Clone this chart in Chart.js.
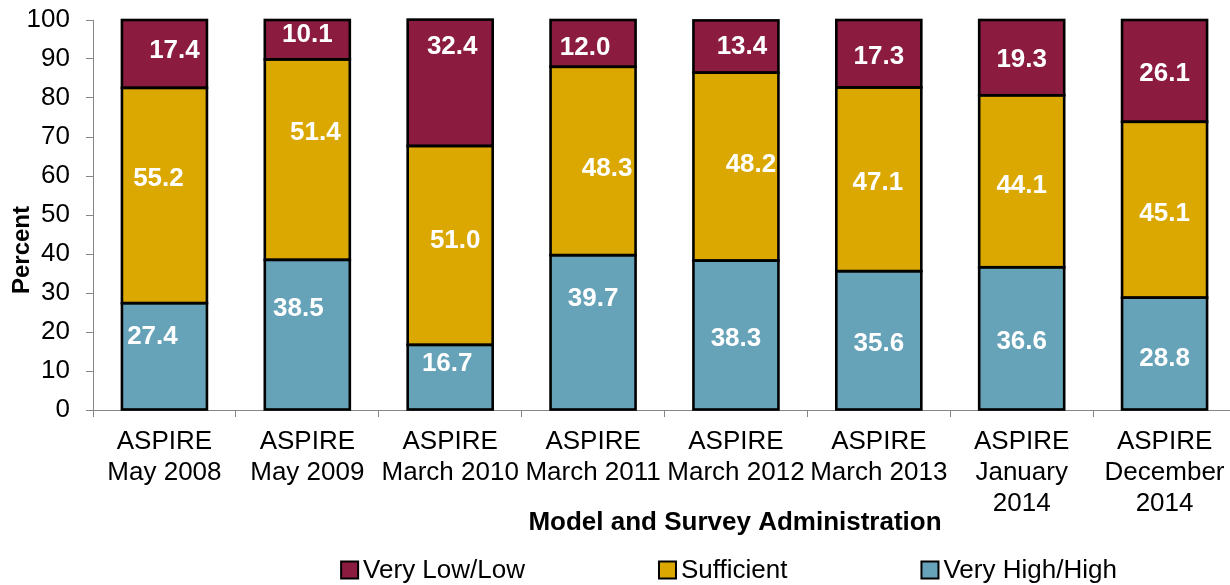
<!DOCTYPE html>
<html>
<head>
<meta charset="utf-8">
<script src="https://cdn.jsdelivr.net/npm/chart.js@4/dist/chart.umd.min.js"></script>
<style>
  html, body { margin: 0; padding: 0; background: #fff; overflow: hidden; width: 1230px; height: 585px; }
  #wrap { width: 1240px; height: 585px; }
</style>
</head>
<body>
<div id="wrap"><canvas id="c" width="1240" height="585"></canvas></div>
<script>
// ---- data ----
const categories = [
  ['ASPIRE', 'May 2008'],
  ['ASPIRE', 'May 2009'],
  ['ASPIRE', 'March 2010'],
  ['ASPIRE', 'March 2011'],
  ['ASPIRE', 'March 2012'],
  ['ASPIRE', 'March 2013'],
  ['ASPIRE', 'January', '2014'],
  ['ASPIRE', 'December', '2014']
];
const veryHighHigh = [27.4, 38.5, 16.7, 39.7, 38.3, 35.6, 36.6, 28.8];
const sufficient   = [55.2, 51.4, 51.0, 48.3, 48.2, 47.1, 44.1, 45.1];
const veryLowLow   = [17.4, 10.1, 32.4, 12.0, 13.4, 17.3, 19.3, 26.1];
const yTicks = [0, 10, 20, 30, 40, 50, 60, 70, 80, 90, 100];
const seriesNames = ['Very High/High', 'Sufficient', 'Very Low/Low'];

// ---- styling ----
const colors = ['#67A3B8', '#DAA800', '#8B1C40'];
const FONT = '"Liberation Sans", Arial, sans-serif';
const AXIS_COLOR = '#868686';
// small manual nudges of value labels (px), as in the original
const labelNudge = [
  { dx: [-12, -9, -3, 0, 0, 0, 0, 0],   dy: [-22, -28, -15, -36, 2, 1, 1, 3] },
  { dx: [-6, 8, 5, 14, 15, -1, 0, 0],   dy: [-19, -29, -7, 6, -4, 1, 2, 2] },
  { dx: [10, 0, 2, -8, 6, 0, 0, 0],     dy: [-5, -7, -38, 2, -2, 1, 0, 1] }
];

const barOutlines = {
  id: 'barOutlines',
  afterDatasetsDraw(chart) {
    const ctx = chart.ctx;
    ctx.save();
    ctx.strokeStyle = '#000';
    ctx.lineWidth = 2.6;
    ctx.lineJoin = 'miter';
    chart.data.datasets.forEach((ds, di) => {
      chart.getDatasetMeta(di).data.forEach(el => {
        const p = el.getProps(['x', 'y', 'base', 'width'], true);
        ctx.strokeRect(p.x - p.width / 2, Math.min(p.y, p.base), p.width, Math.abs(p.base - p.y));
      });
    });
    ctx.restore();
  }
};

const valueLabels = {
  id: 'valueLabels',
  afterDatasetsDraw(chart) {
    const ctx = chart.ctx;
    ctx.save();
    ctx.font = 'bold 26px ' + FONT;
    ctx.fillStyle = '#ffffff';
    ctx.textAlign = 'center';
    ctx.textBaseline = 'alphabetic';
    chart.data.datasets.forEach((ds, di) => {
      const meta = chart.getDatasetMeta(di);
      meta.data.forEach((el, i) => {
        const p = el.getProps(['x', 'y', 'base'], true);
        const cy = (p.y + p.base) / 2;
        const n = labelNudge[di];
        ctx.fillText(ds.data[i].toFixed(1), p.x + n.dx[i], cy + n.dy[i] + 9.3);
      });
    });
    ctx.restore();
  }
};

const extras = {
  id: 'extras',
  afterDraw(chart) {
    const ctx = chart.ctx;
    ctx.save();
    // y axis title
    ctx.font = 'bold 24px ' + FONT;
    ctx.fillStyle = '#000';
    ctx.textAlign = 'center';
    ctx.textBaseline = 'middle';
    ctx.translate(22, 250);
    ctx.rotate(-Math.PI / 2);
    ctx.fillText('Percent', 0, 0);
    ctx.setTransform(1, 0, 0, 1, 0, 0);
    // x axis title
    ctx.font = 'bold 26px ' + FONT;
    ctx.fillText('Model and Survey Administration', 735, 523);
    // legend (reverse order: top series first)
    ctx.font = '26px ' + FONT;
    const order = [2, 1, 0];
    const box = 17, gapBT = 5, gapItems = 134;
    const widths = order.map(k => box + gapBT + ctx.measureText(seriesNames[k]).width);
    const total = widths.reduce((a, b) => a + b, 0) + gapItems * (order.length - 1);
    let x = 729 - total / 2;
    const yc = 570;
    order.forEach((k, j) => {
      ctx.fillStyle = colors[k];
      ctx.fillRect(x, yc - box / 2, box, box);
      ctx.lineWidth = 2;
      ctx.strokeStyle = '#000';
      ctx.strokeRect(x, yc - box / 2, box, box);
      ctx.fillStyle = '#000';
      ctx.textAlign = 'left';
      ctx.textBaseline = 'middle';
      ctx.fillText(seriesNames[k], x + box + gapBT, yc + 1);
      x += widths[j] + gapItems;
    });
    ctx.restore();
  }
};

new Chart(document.getElementById('c'), {
  type: 'bar',
  data: {
    labels: categories,
    datasets: [
      { label: seriesNames[0], data: veryHighHigh, backgroundColor: colors[0] },
      { label: seriesNames[1], data: sufficient,   backgroundColor: colors[1] },
      { label: seriesNames[2], data: veryLowLow,   backgroundColor: colors[2] }
    ].map(d => Object.assign(d, {
      borderWidth: 0, inflateAmount: 0,
      barPercentage: 0.595, categoryPercentage: 1.0
    }))
  },
  options: {
    responsive: false,
    animation: false,
    events: [],
    layout: { padding: { left: 0, right: 4, top: 20, bottom: 65 } },
    plugins: { legend: { display: false }, tooltip: { enabled: false } },
    scales: {
      x: {
        stacked: true,
        offset: true,
        grid: { display: true, drawOnChartArea: false, drawTicks: true, tickLength: 7, offset: true, color: AXIS_COLOR, lineWidth: 1 },
        border: { display: true, color: AXIS_COLOR, width: 1 },
        ticks: { color: '#000', font: { family: FONT, size: 26, lineHeight: 1.2 }, padding: 9, maxRotation: 0, minRotation: 0, autoSkip: false },
        afterFit(s) { s.height = 110; s.paddingLeft = 0; s.paddingRight = 0; }
      },
      y: {
        stacked: true,
        min: 0, max: 100,
        afterBuildTicks(s) { s.ticks = yTicks.map(v => ({ value: v })); },
        grid: { display: true, drawOnChartArea: false, drawTicks: true, tickLength: 7, color: AXIS_COLOR, lineWidth: 1 },
        border: { display: true, color: AXIS_COLOR, width: 1 },
        ticks: { color: '#000', font: { family: FONT, size: 26 }, padding: 16 },
        afterFit(s) { s.width = 93; s.paddingTop = 0; s.paddingBottom = 0; }
      }
    }
  },
  plugins: [barOutlines, valueLabels, extras]
});
</script>
</body>
</html>
